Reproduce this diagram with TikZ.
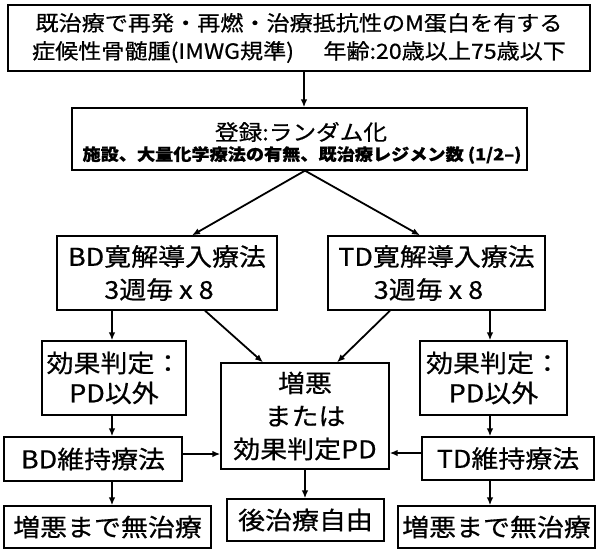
\documentclass[tikz,border=0pt]{standalone}
\usepackage{fontspec}
\newfontfamily\jp[FakeStretch=1.1,FakeBold=0.6]{Noto Sans CJK JP}
\usetikzlibrary{arrows.meta}
\begin{document}
\begin{tikzpicture}[x=1pt,y=-1pt,
  box/.style={draw=black, line width=1.3pt, inner sep=0pt, align=center},
  big/.style={font=\jp\fontsize{24.5}{33}\selectfont},
  arr/.style={line width=1.8pt, -{Latex[length=8pt,width=6.5pt]}},
  lbl/.style={inner sep=0pt}
]
\useasboundingbox (0,0) rectangle (597,550);
% x / y guide coordinates
\coordinate (c112) at (112,0);
\coordinate (c490) at (490,0);
\coordinate (c304) at (304,0);
\coordinate (c305) at (305,0);
\coordinate (c192) at (192,0);
\coordinate (c420) at (420,0);
\coordinate (c205) at (205,0);
\coordinate (c263) at (263,0);
\coordinate (c390) at (390,0);
\coordinate (c337) at (337,0);
\coordinate (r454) at (0,454);
\coordinate (r453) at (0,453);

\node[box, minimum width=582pt, minimum height=66pt,
  font=\jp\fontsize{21}{28}\selectfont] (top) at (299,38)
  {既治療で再発・再燃・治療抵抗性のM蛋白を有する\\症候性骨髄腫(IMWG規準)\hspace{1.4em}年齢:20歳以上75歳以下};

\node[box, minimum width=455pt, minimum height=62pt] (reg) at (299.5,139) {};
\node[lbl, font=\jp\fontsize{21.5}{24}\selectfont] (regA) at (301,132) {登録:ランダム化};
\node[lbl, font=\jp\bfseries\fontsize{16.5}{20}\selectfont] (regB) at (302,155) {施設、大量化学療法の有無、既治療レジメン数 (1/2–)};

\node[box, big, minimum width=220pt, minimum height=74pt] (bd) at (167,273)
  {BD寛解導入療法\\3週毎 x 8\hspace*{16pt}};
\node[box, big, minimum width=217pt, minimum height=74pt] (td) at (436.5,273)
  {TD寛解導入療法\\3週毎 x 8\hspace*{16pt}};

\node[box, minimum width=144pt, minimum height=74pt,
  font=\jp\fontsize{24.5}{30}\selectfont] (effL) at (114,378) {効果判定：\\PD以外};
\node[box, minimum width=147pt, minimum height=74pt,
  font=\jp\fontsize{24.5}{30}\selectfont] (effR) at (493.5,378) {効果判定：\\PD以外};

\node[box, big, minimum width=168pt, minimum height=106pt] (pd) at (305,416)
  {増悪\\または\\効果判定PD};

\node[box, big, minimum width=178pt, minimum height=44pt] (bdm) at (93,459) {BD維持療法};
\node[box, big, minimum width=172pt, minimum height=43pt] (tdm) at (508,458.5) {TD維持療法};

\node[box, big, minimum width=207pt, minimum height=42pt] (botL) at (107.5,527) {増悪まで無治療};
\node[box, big, minimum width=157pt, minimum height=42pt] (botC) at (305.5,520) {後治療自由};
\node[box, big, minimum width=197pt, minimum height=42pt] (botR) at (496.5,527) {増悪まで無治療};

\draw[arr] (top.south -| c304) -- (reg.north -| c304);
\draw[arr] (reg.south -| c305) -- (bd.north -| c192);
\draw[arr] (reg.south -| c305) -- (td.north -| c420);
\draw[arr] (bd.south -| c112) -- (effL.north -| c112);
\draw[arr] (effL.south -| c112) -- (bdm.north -| c112);
\draw[arr] (bdm.south -| c112) -- (botL.north -| c112);
\draw[arr] (td.south -| c490) -- (effR.north -| c490);
\draw[arr] (effR.south -| c490) -- (tdm.north -| c490);
\draw[arr] (tdm.south -| c490) -- (botR.north -| c490);
\draw[arr] (bd.south -| c205) -- (pd.north -| c263);
\draw[arr] (td.south -| c390) -- (pd.north -| c337);
\draw[arr] (pd.south -| c305) -- (botC.north -| c305);
\draw[arr] (bdm.east |- r454) -- (pd.west |- r454);
\draw[arr] (tdm.west |- r453) -- (pd.east |- r453);
\end{tikzpicture}
\end{document}
